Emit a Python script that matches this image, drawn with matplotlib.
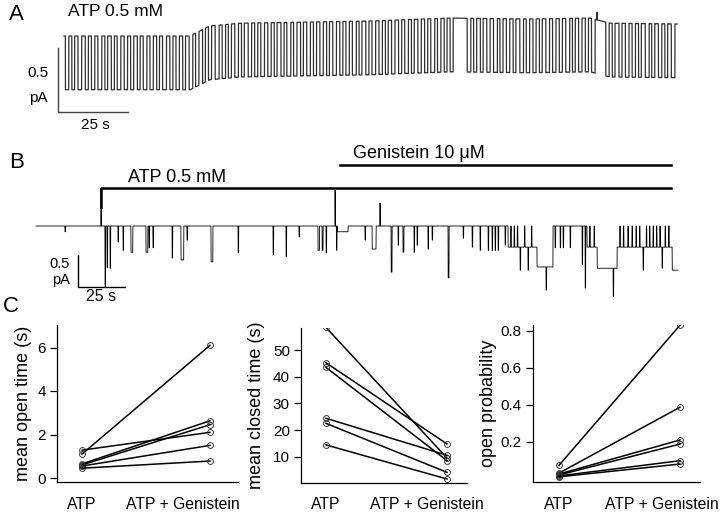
import numpy as np
import matplotlib.pyplot as plt

plt.rcParams['font.family'] = ['Liberation Sans', 'DejaVu Sans']

W, H = 720, 512

# ---- panel A: ATP 0.5 mM (time in s, current in pA) ----
a_drift_t = [0, 45, 52, 63, 109, 138, 166, 188, 195, 219]
a_drift_pa = [0.0, 0.0, 0.078, 0.10, 0.117, 0.14, 0.133, 0.14, 0.10, 0.094]
a_amp = 0.42
a_open_start = [
    0.5, 2.8, 5.0, 7.6, 9.8, 12.1, 14.6, 16.9, 19.0, 21.5,
    23.8, 26.2, 28.3, 30.7, 33.1, 35.2, 37.8, 40.0, 42.4, 44.7,
    47.0, 49.5, 51.6, 54.0, 56.5, 58.7, 61.0, 63.4, 65.8, 68.1,
    70.3, 72.8, 75.1, 77.5, 79.6, 82.0, 84.5, 86.7, 89.1, 91.4,
    93.8, 96.0, 98.5, 100.7, 103.0, 105.4, 107.8, 110.0, 112.5, 114.8,
    117.0, 119.5, 121.7, 124.1, 126.4, 128.8, 131.0, 133.4, 135.8, 137.9,
    144.0, 146.3, 148.7, 151.0, 153.4, 155.7, 158.0, 160.4, 162.8, 165.1,
    167.5, 169.8, 172.1, 174.5, 176.9, 179.2, 181.6, 183.8, 186.2, 188.4,
    193.5, 195.8, 198.2, 200.5, 202.9, 205.2, 207.6, 209.9, 212.3, 214.6,
    216.9,
]
a_open_len = [
    1.2, 1.0, 1.3, 1.1, 1.2, 1.4, 1.0, 1.1, 1.3, 1.2,
    1.1, 1.0, 1.3, 1.2, 1.0, 1.4, 1.1, 1.2, 1.0, 1.3,
    1.2, 1.0, 1.1, 1.4, 1.2, 1.1, 1.3, 1.0, 1.2, 1.1,
    1.3, 1.2, 1.0, 1.1, 1.4, 1.2, 1.0, 1.3, 1.1, 1.2,
    1.0, 1.3, 1.1, 1.2, 1.4, 1.0, 1.1, 1.3, 1.2, 1.0,
    1.2, 1.1, 1.3, 1.0, 1.2, 1.1, 1.4, 1.2, 1.0, 1.1,
    1.3, 1.1, 1.0, 1.2, 1.4, 1.1, 1.2, 1.0, 1.3, 1.2,
    1.1, 1.0, 1.3, 1.2, 1.1, 1.4, 1.0, 1.2, 1.1, 1.3,
    1.2, 1.0, 1.1, 1.3, 1.2, 1.0, 1.4, 1.1, 1.2, 1.0,
    1.3,
]
a_artifact_t = [190.4]
a_artifact_pa = [0.06]
a_end = 219.0

# ---- panel B: ATP then ATP + genistein ----
b_spike_t = [
    15.4, 36.7, 37.8, 39.4, 43.6, 46.3, 50.5, 58.5, 60.1, 62.2,
    72.4, 77.1, 80.3, 93.1, 107.5, 126.1, 133.0, 139.9, 150.0, 152.2,
    154.3, 159.8, 175.0, 178.8, 188.9, 192.6, 195.2, 201.1, 202.7, 208.5,
    210.7, 219.2, 227.2, 232.0, 236.2, 240.5, 242.6, 244.2, 245.8, 249.5,
    257.5, 261.7, 271.3, 276.1, 278.8, 280.4, 284.1, 290.5, 292.1, 307.0,
    322.9, 333.0,
]
b_spike_pa = [
    0.09, 0.95, 0.65, 0.66, 0.25, 0.38, 0.41, 0.41, 0.34, 0.34,
    0.50, 0.53, 0.22, 0.56, 0.42, 0.45, 0.48, 0.17, 0.38, 0.38,
    0.42, 0.38, 0.22, 0.36, 0.72, 0.30, 0.41, 0.41, 0.30, 0.36,
    0.22, 0.81, 0.19, 0.33, 0.38, 0.38, 0.38, 0.38, 0.38, 0.30,
    0.69, 0.69, 1.00, 0.34, 0.34, 0.34, 0.34, 0.60, 0.97, 1.10,
    0.69, 0.66,
]
b_spike_len = [
    0.3, 0.3, 0.3, 0.3, 0.3, 0.3, 1.0, 1.0, 0.3, 0.3,
    0.3, 1.5, 0.3, 1.0, 0.3, 0.3, 0.3, 0.3, 0.8, 0.5,
    0.3, 0.3, 0.3, 2.1, 0.5, 0.3, 0.5, 0.3, 0.3, 0.3,
    0.3, 0.5, 0.3, 0.3, 0.3, 0.3, 0.3, 0.3, 0.3, 0.3,
    0.3, 0.3, 0.3, 0.3, 0.3, 0.3, 0.3, 0.3, 0.3, 0.3,
    0.3, 0.3,
]
b_level_start = [160.3, 251.1, 266.5, 293.1, 298.5, 309.1, 338.4]
b_level_end = [166.0, 266.5, 275.0, 298.5, 309.1, 338.4, 341.5]
b_level_pa = [0.09, 0.33, 0.64, 0.33, 0.66, 0.33, 0.69]
b_flicker_t = [
    252.5, 254.3, 256.0, 259.8, 263.5, 294.5, 296.8, 310.5, 312.4, 314.8,
    317.0, 319.1, 321.0, 324.6, 326.3, 328.2, 330.0, 331.8, 334.6, 336.5,
]
b_artifact_t = [34.6, 159.1, 183.0]
b_artifact_pa = [0.59, 0.56, 0.36]
b_end = 341.5
b_atp_on = 34.6
b_gen_on = 161.7
b_off = 338.0

# ---- panel C: paired patch values ----
groups = ['ATP', 'ATP + Genistein']
open_atp = [1.28, 1.10, 0.65, 0.60, 0.55, 0.45]
open_gen = [2.10, 6.10, 2.63, 2.45, 1.50, 0.78]
closed_atp = [58.5, 45.25, 43.5, 24.4, 22.5, 14.4]
closed_gen = [9.5, 14.75, 8.5, 10.5, 4.1, 1.6]
po_atp = [0.072, 0.030, 0.025, 0.020, 0.015, 0.010]
po_gen = [0.829, 0.386, 0.209, 0.187, 0.097, 0.079]


def px_axes(fig, left, top, right, bottom):
    return fig.add_axes([left / W, 1 - bottom / H, (right - left) / W, (bottom - top) / H])


def ftext(fig, x, y, s, **kw):
    fig.text(x / W, 1 - y / H, s, **kw)


def trace_a():
    t = np.arange(0, a_end, 0.02)
    base = np.interp(t, a_drift_t, a_drift_pa)
    state = np.zeros_like(t)
    for s, d in zip(a_open_start, a_open_len):
        state[(t >= s) & (t < s + d)] = 1
    y = base - a_amp * state
    for ta, pa in zip(a_artifact_t, a_artifact_pa):
        i = np.argmin(np.abs(t - ta))
        y[i] = base[i] + pa
    return t, y


def trace_b():
    t = np.arange(0, b_end, 0.05)
    y = np.zeros_like(t)
    for s, e, pa in zip(b_level_start, b_level_end, b_level_pa):
        y[(t >= s) & (t < e)] = -pa
    for tf in b_flicker_t:
        y[(t >= tf) & (t < tf + 0.3)] = 0
    for ts, pa, d in zip(b_spike_t, b_spike_pa, b_spike_len):
        y[(t >= ts) & (t < ts + d)] = -pa
    for ta, pa in zip(b_artifact_t, b_artifact_pa):
        y[np.argmin(np.abs(t - ta))] = pa
    return t, y


def pair_panel(ax, before, after, ylabel, ylim, yticks, xlim, gen_x, label_x):
    for b, a in zip(before, after):
        ax.plot([0, 1], [b, a], color='black', lw=1.1, marker='o', ms=4.2,
                mfc='none', mec='#333333', mew=0.7)
    ax.set_xlim(*xlim)
    ax.set_ylim(*ylim)
    ax.set_yticks(yticks)
    ax.set_xticks([])
    for side in ['top', 'right']:
        ax.spines[side].set_visible(False)
    for side in ['left', 'bottom']:
        ax.spines[side].set_linewidth(0.9)
    ax.tick_params(axis='y', length=5, width=0.9, pad=3, labelsize=11)
    ax.set_ylabel(ylabel, fontsize=13)
    ax.yaxis.set_label_coords(label_x, 0.5)
    trans = ax.get_xaxis_transform()
    ax.text(0, gen_x[1], groups[0], transform=trans, ha='center', va='baseline', fontsize=11.3)
    ax.text(gen_x[0], gen_x[1], groups[1], transform=trans, ha='center', va='baseline', fontsize=11.3)


def main():
    fig = plt.figure(figsize=(W / 100, H / 100), dpi=100)

    # panel A: 70 px = 25 s, 64 px = 0.5 pA
    ax = px_axes(fig, 0, 0, 720, 140)
    ax.axis('off')
    sx, sy = 25 / 70, 0.5 / 64
    ax.set_xlim(-64 * sx, (720 - 64) * sx)
    ax.set_ylim(-(140 - 36) * sy, 36 * sy)
    t, y = trace_a()
    ax.plot(t, y, color='#303030', lw=0.9)
    x0, y0 = -6 * sx, -(112 - 36) * sy
    ax.plot([x0, x0, x0 + 25], [y0 + 0.5, y0, y0], color='#444444', lw=1.0)

    ftext(fig, 16, 15, 'A', fontsize=16, ha='center', va='center')
    ftext(fig, 68, 12, 'ATP 0.5 mM', fontsize=12.5, ha='left', va='center')
    ftext(fig, 48, 77, '0.5', fontsize=11, ha='right', va='baseline')
    ftext(fig, 48, 102, 'pA', fontsize=11, ha='right', va='baseline')
    ftext(fig, 95, 129, '25 s', fontsize=11, ha='center', va='baseline')

    # panel B: 47 px = 25 s, 64 px = 1 pA
    ax = px_axes(fig, 0, 140, 720, 305)
    ax.axis('off')
    sx, sy = 25 / 47, 0.5 / 32
    ax.set_xlim(-36 * sx, (720 - 36) * sx)
    ax.set_ylim(-(305 - 226) * sy, (226 - 140) * sy)
    t, y = trace_b()
    ax.plot(t, y, color='black', lw=0.6)
    ax.plot([b_atp_on, b_atp_on, b_off], [0.3, 0.594, 0.594], color='black', lw=1.8)
    ax.plot([b_gen_on, b_off], [0.953, 0.953], color='black', lw=1.8)
    x0, y0 = (78 - 36) * sx, -(287 - 226) * sy
    ax.plot([x0, x0, x0 + 25], [y0 + 0.5, y0, y0], color='black', lw=1.0)

    ftext(fig, 17, 163, 'B', fontsize=16, ha='center', va='center')
    ftext(fig, 128, 177, 'ATP 0.5 mM', fontsize=13, ha='left', va='center')
    ftext(fig, 353, 153, 'Genistein 10 μM', fontsize=13, ha='left', va='center')
    ftext(fig, 70, 268, '0.5', fontsize=10.5, ha='right', va='baseline')
    ftext(fig, 70, 284, 'pA', fontsize=10.5, ha='right', va='baseline')
    ftext(fig, 101, 301, '25 s', fontsize=11.5, ha='center', va='baseline')

    # panel C
    ftext(fig, 11, 307, 'C', fontsize=16, ha='center', va='center')

    ax = px_axes(fig, 57, 325, 238, 482)
    pair_panel(ax, open_atp, open_gen, 'mean open time (s)',
               ((478 - 482) / 21.75, (478 - 325) / 21.75), [0, 2, 4, 6],
               ((57 - 82) / 128, (238 - 82) / 128),
               ((183 - 82) / 128, -(509 - 482) / 157), (32 - 57) / 181)

    ax = px_axes(fig, 301, 328, 467, 483)
    pair_panel(ax, closed_atp, closed_gen, 'mean closed time (s)',
               (0.1, 58.3), [10, 20, 30, 40, 50],
               ((301 - 326) / 121, (467 - 326) / 121),
               ((427 - 326) / 121, -(509 - 483) / 155), (265 - 301) / 166)

    ax = px_axes(fig, 533, 325, 700, 482)
    pair_panel(ax, po_atp, po_gen, 'open probability',
               (-0.018, 0.83), [0.2, 0.4, 0.6, 0.8],
               ((533 - 559) / 121, (700 - 559) / 121),
               ((662 - 559) / 121, -(509 - 482) / 157), (497 - 533) / 167)

    fig.savefig('out.png', dpi=100)


if __name__ == '__main__':
    main()
